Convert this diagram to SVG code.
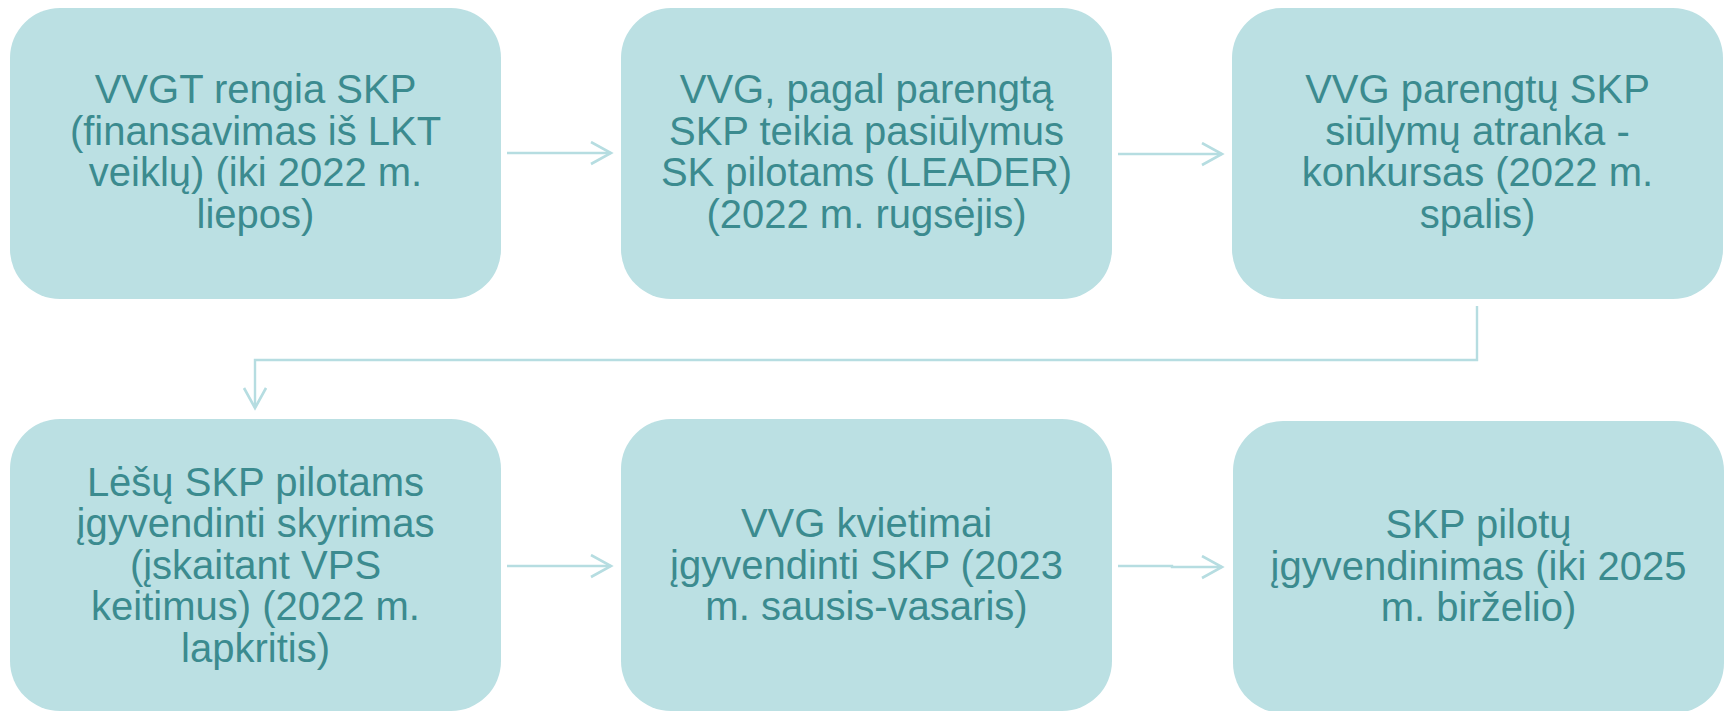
<svg xmlns="http://www.w3.org/2000/svg" width="1729" height="711" viewBox="0 0 1729 711">
<style>
.box{fill:#bbe0e3;}
.t{font-family:"Liberation Sans",Arial,sans-serif;font-size:40px;fill:#3b8b8f;text-anchor:middle;}
.c{fill:none;stroke:#b6dde1;stroke-width:2.4;}
</style>
<defs>
<marker id="arr" markerWidth="24" markerHeight="26" refX="21" refY="12" orient="auto" markerUnits="userSpaceOnUse">
<path d="M1,1 L21,12 L1,23" fill="none" stroke="#b6dde1" stroke-width="2.6"/>
</marker>
</defs>
<rect width="1729" height="711" fill="#ffffff"/>
<g id="connectors">
<path class="c" d="M507,153 L611,153" marker-end="url(#arr)"/>
<path class="c" d="M1118,154 L1222,154" marker-end="url(#arr)"/>
<path class="c" d="M1477,306 L1477,360 L255,360 L255,408" marker-end="url(#arr)"/>
<path class="c" d="M507,566 L611,566" marker-end="url(#arr)"/>
<path class="c" d="M1118,566 L1172,566 L1172,567 L1222,567" marker-end="url(#arr)"/>
</g>
<g id="n1">
<rect class="box" x="10" y="8" width="491" height="291" rx="50"/>
<text class="t" x="255.5" y="103">VVGT rengia SKP</text>
<text class="t" x="255.5" y="144.5">(finansavimas iš LKT</text>
<text class="t" x="255.5" y="186">veiklų) (iki 2022 m.</text>
<text class="t" x="255.5" y="227.5">liepos)</text>
</g>
<g id="n2">
<rect class="box" x="621" y="8" width="491" height="291" rx="50"/>
<text class="t" x="866.5" y="103">VVG, pagal parengtą</text>
<text class="t" x="866.5" y="144.5">SKP teikia pasiūlymus</text>
<text class="t" x="866.5" y="186">SK pilotams (LEADER)</text>
<text class="t" x="866.5" y="227.5">(2022 m. rugsėjis)</text>
</g>
<g id="n3">
<rect class="box" x="1232" y="8" width="491" height="291" rx="50"/>
<text class="t" x="1477.5" y="103">VVG parengtų SKP</text>
<text class="t" x="1477.5" y="144.5">siūlymų atranka -</text>
<text class="t" x="1477.5" y="186">konkursas (2022 m.</text>
<text class="t" x="1477.5" y="227.5">spalis)</text>
</g>
<g id="n4">
<rect class="box" x="10" y="419" width="491" height="292" rx="50"/>
<text class="t" x="255.5" y="495.5">Lėšų SKP pilotams</text>
<text class="t" x="255.5" y="537">įgyvendinti skyrimas</text>
<text class="t" x="255.5" y="578.5">(įskaitant VPS</text>
<text class="t" x="255.5" y="620">keitimus) (2022 m.</text>
<text class="t" x="255.5" y="661.5">lapkritis)</text>
</g>
<g id="n5">
<rect class="box" x="621" y="419" width="491" height="292" rx="50"/>
<text class="t" x="866.5" y="537">VVG kvietimai</text>
<text class="t" x="866.5" y="578.5">įgyvendinti SKP (2023</text>
<text class="t" x="866.5" y="620">m. sausis-vasaris)</text>
</g>
<g id="n6">
<rect class="box" x="1233" y="421" width="491" height="292" rx="50"/>
<text class="t" x="1478.5" y="538">SKP pilotų</text>
<text class="t" x="1478.5" y="579.5">įgyvendinimas (iki 2025</text>
<text class="t" x="1478.5" y="621">m. birželio)</text>
</g>
</svg>
